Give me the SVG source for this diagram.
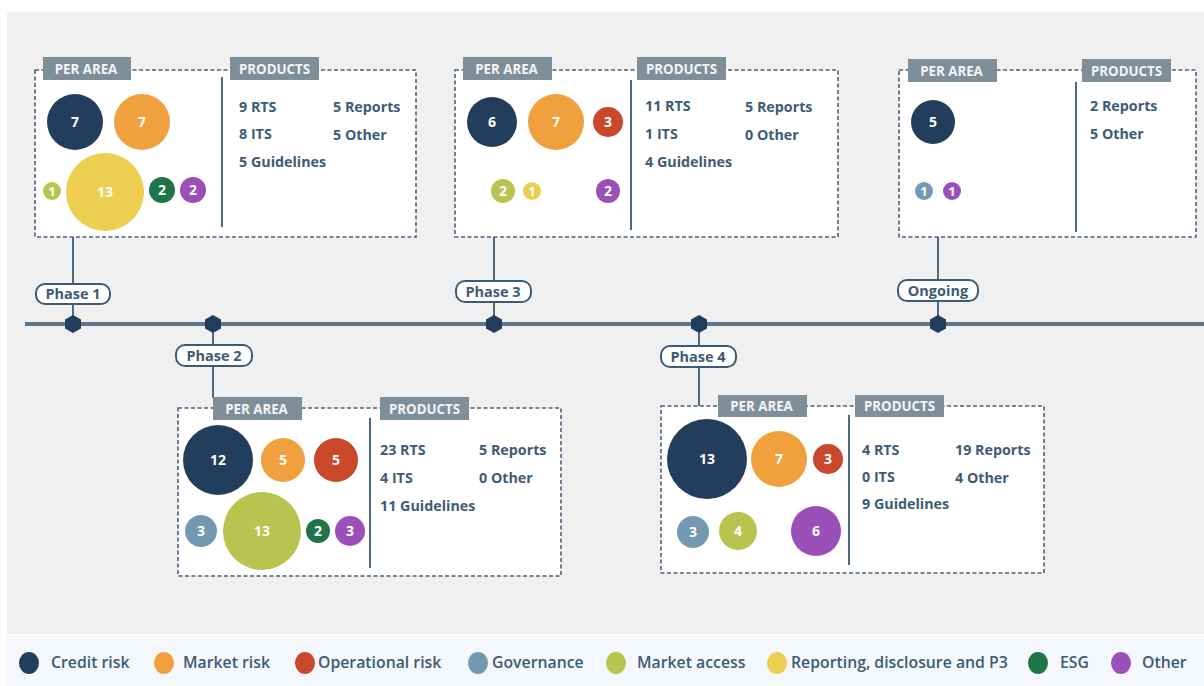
<svg xmlns="http://www.w3.org/2000/svg" width="1204" height="686" viewBox="0 0 1204 686">
<style>
.box{fill:#fff;stroke:#4a6078;stroke-width:1.6;stroke-dasharray:4 2.5}
.tag{fill:#7f8f9a}
.tagt{fill:#f4f4f4;font-family:"Open Sans",sans-serif;font-weight:700;font-size:13.3px;text-anchor:middle}
.div{stroke:#4f6a80;stroke-width:2}
.pt{fill:#3e5b75;font-family:"Open Sans",sans-serif;font-weight:700;font-size:14.3px}
.num{fill:#fff;font-family:"Open Sans",sans-serif;font-weight:700;font-size:14px;text-anchor:middle}
.lbl{fill:#fff;stroke:#3e5b75;stroke-width:2}
.lblt{fill:#3e5b75;font-family:"Open Sans",sans-serif;font-weight:700;font-size:14.5px;text-anchor:middle}
.con{stroke:#4f6a80;stroke-width:2;fill:none}
.hex{fill:#233d5c}
.leg{fill:#3e5b75;font-family:"Open Sans",sans-serif;font-weight:600;font-size:15.8px}
.cr{fill:#233d5c}.mr{fill:#f0a03c}.or{fill:#c9472b}.gv{fill:#7399b0}.ma{fill:#b8c450}.rp{fill:#ecce50}.esg{fill:#1f7448}.ot{fill:#9b4fb8}
</style>
<rect x="0" y="0" width="1204" height="686" fill="#ffffff"/>
<rect x="7" y="12" width="1197" height="622" fill="#f0f0f0"/>
<rect x="7" y="636" width="1197" height="50" fill="#f4f7fb"/>

<g id="connectors">
<line x1="25" y1="324" x2="1204" y2="324" stroke="#5d7589" stroke-width="4"/>
<path class="con" d="M73 237V283M73 304V324"/>
<path class="con" d="M494 237V280M494 302V324"/>
<path class="con" d="M938 237V279M938 301V324"/>
<path class="con" d="M213 324V344M213 366V398"/>
<path class="con" d="M699 324V345M699 368V406"/>
</g>

<g id="timeline-markers">
<polygon class="hex" points="73,315 81,319.5 81,328.5 73,333 65,328.5 65,319.5"/>
<polygon class="hex" points="213,315 221,319.5 221,328.5 213,333 205,328.5 205,319.5"/>
<polygon class="hex" points="494,315 502,319.5 502,328.5 494,333 486,328.5 486,319.5"/>
<polygon class="hex" points="699,315 707,319.5 707,328.5 699,333 691,328.5 691,319.5"/>
<polygon class="hex" points="938,315 946,319.5 946,328.5 938,333 930,328.5 930,319.5"/>
</g>

<g id="label-phase1"><rect class="lbl" x="36" y="284" width="74" height="20" rx="9"/><text class="lblt" x="73" y="299">Phase 1</text></g>
<g id="label-phase2"><rect class="lbl" x="176" y="345" width="76" height="21" rx="9"/><text class="lblt" x="214" y="360.5">Phase 2</text></g>
<g id="label-phase3"><rect class="lbl" x="456" y="281" width="75" height="21" rx="9"/><text class="lblt" x="493" y="296.5">Phase 3</text></g>
<g id="label-phase4"><rect class="lbl" x="661" y="346" width="75" height="21" rx="9"/><text class="lblt" x="698" y="361.5">Phase 4</text></g>
<g id="label-ongoing"><rect class="lbl" x="898" y="280" width="80" height="21" rx="9"/><text class="lblt" x="938" y="295.5">Ongoing</text></g>

<g id="box-phase1">
<rect class="box" x="35" y="70" width="381" height="167"/>
<rect class="tag" x="43" y="57" width="88" height="23"/><text class="tagt" x="86" y="73.5">PER AREA</text>
<rect class="tag" x="230" y="57" width="89" height="23"/><text class="tagt" x="274.5" y="73.5">PRODUCTS</text>
<line class="div" x1="222" y1="77" x2="222" y2="227"/>
<circle class="cr" cx="75" cy="122" r="28"/><text class="num" x="75" y="127">7</text>
<circle class="mr" cx="142" cy="122" r="28"/><text class="num" x="142" y="127">7</text>
<circle class="rp" cx="105" cy="192" r="39"/><text class="num" x="105" y="197">13</text>
<circle class="ma" cx="52" cy="191" r="9"/><text class="num" x="52" y="196" style="font-size:13px">1</text>
<circle class="esg" cx="162" cy="190" r="13"/><text class="num" x="162" y="195">2</text>
<circle class="ot" cx="193" cy="190" r="13"/><text class="num" x="193" y="195">2</text>
<text class="pt" x="239" y="112">9 RTS</text><text class="pt" x="333" y="112">5 Reports</text>
<text class="pt" x="239" y="139">8 ITS</text><text class="pt" x="333" y="140">5 Other</text>
<text class="pt" x="239" y="167">5 Guidelines</text>
</g>

<g id="box-phase3">
<rect class="box" x="455" y="70" width="383" height="167"/>
<rect class="tag" x="463" y="57" width="89" height="23"/><text class="tagt" x="506.5" y="73.5">PER AREA</text>
<rect class="tag" x="637" y="57" width="89" height="23"/><text class="tagt" x="681.5" y="73.5">PRODUCTS</text>
<line class="div" x1="631" y1="80" x2="631" y2="230"/>
<circle class="cr" cx="492" cy="122" r="25"/><text class="num" x="492" y="127">6</text>
<circle class="mr" cx="556" cy="122" r="28"/><text class="num" x="556" y="127">7</text>
<circle class="or" cx="608" cy="122" r="15"/><text class="num" x="608" y="127">3</text>
<circle class="ma" cx="503" cy="191" r="12"/><text class="num" x="503" y="196">2</text>
<circle class="rp" cx="532" cy="191" r="9"/><text class="num" x="532" y="196" style="font-size:13px">1</text>
<circle class="ot" cx="608" cy="191" r="12"/><text class="num" x="608" y="196">2</text>
<text class="pt" x="645" y="111">11 RTS</text><text class="pt" x="745" y="112">5 Reports</text>
<text class="pt" x="645" y="139">1 ITS</text><text class="pt" x="745" y="140">0 Other</text>
<text class="pt" x="645" y="167">4 Guidelines</text>
</g>

<g id="box-ongoing">
<rect class="box" x="899" y="70" width="297" height="167"/>
<rect class="tag" x="908" y="59" width="89" height="23"/><text class="tagt" x="951.5" y="75.5">PER AREA</text>
<rect class="tag" x="1082" y="59" width="89" height="23"/><text class="tagt" x="1126.5" y="75.5">PRODUCTS</text>
<line class="div" x1="1076" y1="82" x2="1076" y2="232"/>
<circle class="cr" cx="933" cy="122" r="22"/><text class="num" x="933" y="127">5</text>
<circle class="gv" cx="924" cy="191" r="9"/><text class="num" x="924" y="196" style="font-size:13px">1</text>
<circle class="ot" cx="952" cy="191" r="9"/><text class="num" x="952" y="196" style="font-size:13px">1</text>
<text class="pt" x="1090" y="111">2 Reports</text>
<text class="pt" x="1090" y="139">5 Other</text>
</g>

<g id="box-phase2">
<rect class="box" x="178" y="408" width="383" height="168"/>
<rect class="tag" x="213" y="397" width="89" height="23"/><text class="tagt" x="256.5" y="413.5">PER AREA</text>
<rect class="tag" x="380" y="397" width="89" height="23"/><text class="tagt" x="424.5" y="413.5">PRODUCTS</text>
<line class="div" x1="370" y1="418" x2="370" y2="568"/>
<circle class="cr" cx="218" cy="460" r="35"/><text class="num" x="218" y="465">12</text>
<circle class="mr" cx="283" cy="460" r="22"/><text class="num" x="283" y="465">5</text>
<circle class="or" cx="336" cy="460" r="22"/><text class="num" x="336" y="465">5</text>
<circle class="gv" cx="201" cy="531" r="16"/><text class="num" x="201" y="536">3</text>
<circle class="ma" cx="262" cy="531" r="39"/><text class="num" x="262" y="536">13</text>
<circle class="esg" cx="318" cy="531" r="12"/><text class="num" x="318" y="536">2</text>
<circle class="ot" cx="350" cy="531" r="15"/><text class="num" x="350" y="536">3</text>
<text class="pt" x="380" y="455">23 RTS</text><text class="pt" x="479" y="455">5 Reports</text>
<text class="pt" x="380" y="483">4 ITS</text><text class="pt" x="479" y="483">0 Other</text>
<text class="pt" x="380" y="511">11 Guidelines</text>
</g>

<g id="box-phase4">
<rect class="box" x="661" y="406" width="383" height="167"/>
<rect class="tag" x="718" y="395" width="89" height="22"/><text class="tagt" x="761.5" y="411">PER AREA</text>
<rect class="tag" x="855" y="395" width="89" height="22"/><text class="tagt" x="899.5" y="411">PRODUCTS</text>
<line class="div" x1="849" y1="415" x2="849" y2="565"/>
<circle class="cr" cx="707" cy="459" r="40"/><text class="num" x="707" y="464">13</text>
<circle class="mr" cx="779" cy="459" r="28"/><text class="num" x="779" y="464">7</text>
<circle class="or" cx="828" cy="459" r="15"/><text class="num" x="828" y="464">3</text>
<circle class="gv" cx="693" cy="532" r="16"/><text class="num" x="693" y="537">3</text>
<circle class="ma" cx="738" cy="531" r="19"/><text class="num" x="738" y="536">4</text>
<circle class="ot" cx="816" cy="531" r="25"/><text class="num" x="816" y="536">6</text>
<text class="pt" x="862" y="455">4 RTS</text><text class="pt" x="955" y="455">19 Reports</text>
<text class="pt" x="862" y="482">0 ITS</text><text class="pt" x="955" y="483">4 Other</text>
<text class="pt" x="862" y="509">9 Guidelines</text>
</g>

<g id="legend">
<ellipse class="cr" cx="29" cy="663" rx="10" ry="11"/><text class="leg" x="51" y="668">Credit risk</text>
<ellipse class="mr" cx="164" cy="663" rx="10" ry="11"/><text class="leg" x="183" y="668">Market risk</text>
<ellipse class="or" cx="305" cy="663" rx="10" ry="11"/><text class="leg" x="318" y="668">Operational risk</text>
<ellipse class="gv" cx="478" cy="663" rx="10" ry="11"/><text class="leg" x="492" y="668">Governance</text>
<ellipse class="ma" cx="616" cy="663" rx="10" ry="11"/><text class="leg" x="637" y="668">Market access</text>
<ellipse class="rp" cx="777" cy="663" rx="10" ry="11"/><text class="leg" x="791" y="668">Reporting, disclosure and P3</text>
<ellipse class="esg" cx="1038" cy="663" rx="10" ry="11"/><text class="leg" x="1060" y="668">ESG</text>
<ellipse class="ot" cx="1121" cy="663" rx="10" ry="11"/><text class="leg" x="1142" y="668">Other</text>
</g>
</svg>
